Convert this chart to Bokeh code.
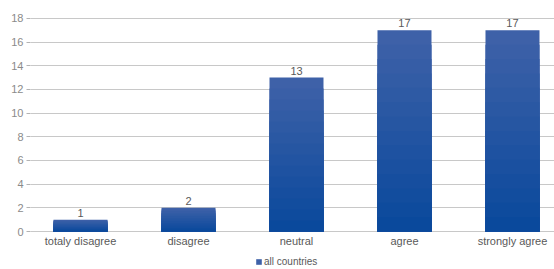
from bokeh.plotting import figure
from bokeh.models import Range1d, FixedTicker, Legend, LegendItem, ColumnDataSource, LabelSet
from bokeh.core.properties import value
from bokeh.embed import file_html
from bokeh.resources import INLINE

categories = ["totaly disagree", "disagree", "neutral", "agree", "strongly agree"]
values = [1, 2, 13, 17, 17]
series_name = "all countries"
y_ticks = [0, 2, 4, 6, 8, 10, 12, 14, 16, 18]

xs = list(range(len(categories)))

p = figure(width=554, height=269, output_backend="svg", toolbar_location=None,
           x_range=Range1d(-0.463, 4.389), y_range=Range1d(-3.21, 18.5),
           min_border_left=30, min_border_right=0, min_border_top=12, min_border_bottom=0)
p.outline_line_color = None
p.background_fill_color = "white"
p.border_fill_color = "white"

# gradient-like bars: layered from full height (light) to lower fractions (dark)
top_col = (0x40, 0x62, 0xa8)
bot_col = (0x08, 0x48, 0x9c)
N = 14
first = None
for k in range(N, 0, -1):
    f = k / N
    t = (k - 0.5) / N
    c = tuple(int(round(bot_col[i] + (top_col[i] - bot_col[i]) * t)) for i in range(3))
    color = "#%02x%02x%02x" % c
    r = p.vbar(x=xs, top=[v * f for v in values], width=0.5, bottom=0,
               fill_color=color, line_color=None)
    if first is None:
        first = r

src = ColumnDataSource(dict(x=xs, y=values, t=[str(v) for v in values]))
labels = LabelSet(x="x", y="y", text="t", source=src, text_align="center",
                  text_baseline="bottom", y_offset=3, text_font_size=value("11px"),
                  text_color="#595959", text_font=value("Liberation Sans"))
p.add_layout(labels)

csrc = ColumnDataSource(dict(x=xs, y=[0] * len(xs), t=categories))
clabels = LabelSet(x="x", y="y", text="t", source=csrc, text_align="center",
                   text_baseline="top", y_offset=-3, text_font_size=value("11px"),
                   text_color="#595959", text_font=value("Liberation Sans"))
p.add_layout(clabels)

p.xaxis.visible = False

p.yaxis.ticker = FixedTicker(ticks=y_ticks)
p.yaxis.axis_line_color = None
p.yaxis.major_tick_line_color = "#b3b3b3"
p.yaxis.major_tick_out = 4
p.yaxis.major_tick_in = 0
p.yaxis.minor_tick_line_color = None
p.yaxis.major_label_text_font_size = "11px"
p.yaxis.major_label_text_color = "#8a8a8a"
p.yaxis.major_label_text_font = "Liberation Sans"
p.yaxis.major_label_standoff = 3

p.xgrid.grid_line_color = None
p.ygrid.grid_line_color = "#c8c8c8"
p.ygrid.ticker = FixedTicker(ticks=y_ticks)

legend = Legend(items=[LegendItem(label=series_name, renderers=[first])],
                location=(225, 2), orientation="horizontal",
                label_text_font_size="10px", label_text_color="#595959",
                label_text_font="Liberation Sans",
                glyph_width=7, glyph_height=7, label_standoff=2,
                padding=0, margin=0, spacing=0, border_line_color=None,
                background_fill_alpha=0, label_height=10)
p.add_layout(legend, "center")

open("out.html", "w").write(file_html(p, INLINE))
